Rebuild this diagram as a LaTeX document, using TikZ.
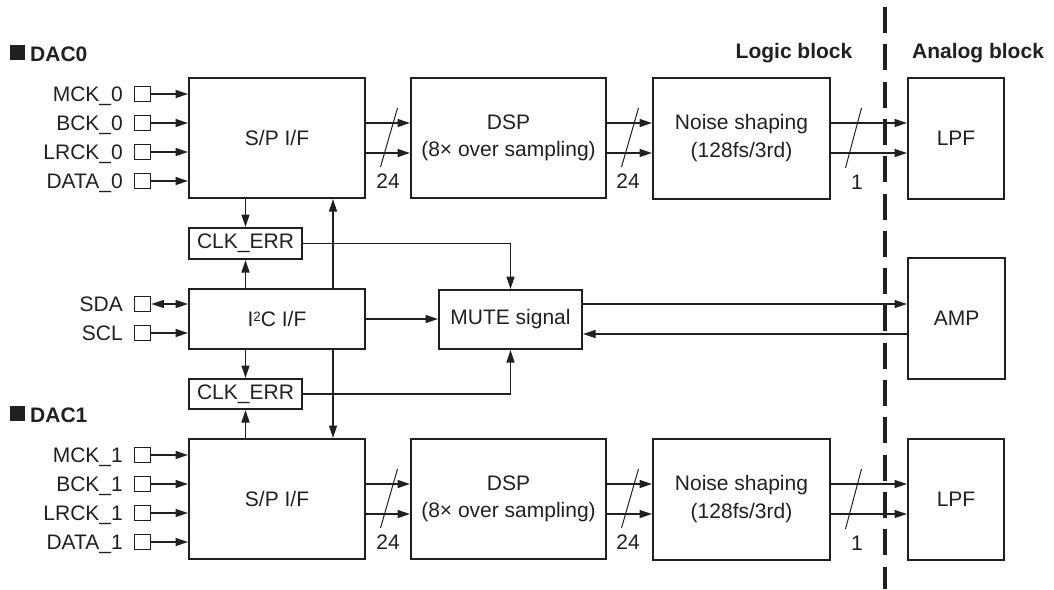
\documentclass[tikz,border=0pt]{standalone}
\usepackage{fontspec}
\setmainfont{Liberation Sans}
\usetikzlibrary{arrows.meta}
\definecolor{ink}{HTML}{231F20}
\begin{document}
\begin{tikzpicture}[x=1pt,y=-1pt,
  font=\fontsize{21}{27.5}\selectfont, text=ink,
  box/.style={draw=ink, line width=2pt, inner sep=0pt, align=center},
  pin/.style={draw=ink, line width=1.7pt, minimum width=16pt, minimum height=15pt, inner sep=0pt},
  conn/.style={line width=1.3pt, draw=ink},
  arr/.style={conn, -{Triangle[length=12.5pt,width=8pt]}},
  darr/.style={conn, {Triangle[length=12.5pt,width=8pt]}-{Triangle[length=12.5pt,width=8pt]}},
  lbl/.style={anchor=base east, inner sep=0pt},
  head/.style={inner sep=0pt, font=\fontsize{21}{27.5}\selectfont\bfseries},
  busmark/.style={line width=1pt, draw=ink},
  divider/.style={line width=4pt, draw=ink, dash pattern=on 26pt off 11.3pt}]
\useasboundingbox (0,0) rectangle (1054,589);

% headings
\node[fill=ink, minimum width=15pt, minimum height=15pt, inner sep=0pt] (sq0) at (17.5,52.5) {};
\node[head, anchor=base west] (dac0) at (30,61) {DAC0};
\node[fill=ink, minimum width=15pt, minimum height=15pt, inner sep=0pt] (sq1) at (17.5,413.5) {};
\node[head, anchor=base west] (dac1) at (30,422) {DAC1};
\node[head, anchor=base] (logic) at (794,58) {Logic block};
\node[head, anchor=base] (analog) at (978,58) {Analog block};

% divider
\coordinate (dtop) at (884.5,7);
\coordinate (dbot) at (884.5,589);
\draw[divider] (dtop) -- (dbot);

% two DAC chains
\foreach \d/\c in {0/138,1/499} {
  \node[box, minimum width=176pt, minimum height=120pt] (sp\d) at (277,\c) {S/P I/F};
  \node[box, minimum width=195pt, minimum height=120pt] (dsp\d) at (508.5,\c) {DSP\\(8× over sampling)};
  \node[box, minimum width=177pt, minimum height=121pt] (ns\d) at (741.5,\c) {Noise shaping\\(128fs/3rd)};
  \node[box, minimum width=96pt, minimum height=121pt] (lpf\d) at (956,\c) {LPF};
  \foreach \n/\o in {MCK/-44,BCK/-15,LRCK/14,DATA/43} {
    \node[pin] (\n\d) at (142.5,\c+\o) {};
    \node[lbl] (t\n\d) at (123,\c+\o+7.5) {\n\_\d};
    \draw[arr] (\n\d.east) -- (sp\d.west |- \n\d);
  }
  \foreach \a/\b in {sp/dsp,dsp/ns,ns/lpf} {
    \draw[arr] ([yshift=15pt]\a\d.east) -- ([yshift=15pt]\b\d.west);
    \draw[arr] ([yshift=-15pt]\a\d.east) -- ([yshift=-15pt]\b\d.west);
  }
  \draw[busmark] (397.5,\c-30) -- (380.5,\c+29);
  \node (wa\d) at (388,\c+43) {24};
  \draw[busmark] (638.5,\c-30) -- (621.5,\c+29);
  \node (wb\d) at (628,\c+43) {24};
  \draw[busmark] (861.5,\c-30) -- (845.5,\c+30);
  \node (wc\d) at (857,\c+44) {1};
}

% control section
\node[box, minimum width=113pt, minimum height=31pt] (ce0) at (245.5,243.5) {CLK\_ERR};
\node[box, minimum width=176pt, minimum height=60pt] (i2c) at (277,319) {I\raisebox{5.5pt}{\fontsize{13.5}{13.5}\selectfont 2}C I/F};
\node[box, minimum width=113pt, minimum height=30pt] (ce1) at (245.5,394) {CLK\_ERR};
\node[box, minimum width=143pt, minimum height=59pt] (mute) at (510.5,319.5) {MUTE signal};
\node[box, minimum width=97pt, minimum height=121pt] (amp) at (956.5,318.5) {AMP};

\node[pin] (sda) at (142.5,304) {};
\node[lbl] (tsda) at (123,311.5) {SDA};
\node[pin] (scl) at (142.5,333) {};
\node[lbl] (tscl) at (123,340.5) {SCL};
\draw[darr] (sda.east) -- (sda.east -| i2c.west);
\draw[arr] (scl.east) -- (scl.east -| i2c.west);

\draw[arr] (sp0.south -| ce0) -- (ce0.north);
\draw[arr] (i2c.north -| ce0) -- (ce0.south);
\draw[arr] (i2c.south -| ce1) -- (ce1.north);
\draw[arr] (sp1.north -| ce1) -- (ce1.south);
\coordinate (vx) at (333,0);
\draw[arr] (i2c.north -| vx) -- (sp0.south -| vx);
\draw[arr] (i2c.south -| vx) -- (sp1.north -| vx);
\draw[arr] (ce0.east) -| (mute.north);
\draw[arr] (ce1.east) -| (mute.south);
\draw[arr] (i2c.east) -- (i2c.east -| mute.west);
\draw[arr] ([yshift=15.5pt]mute.east) -- ([yshift=15.5pt]mute.east -| amp.west);
\draw[arr] ([yshift=-14.5pt]mute.east -| amp.west) -- ([yshift=-14.5pt]mute.east);
\end{tikzpicture}
\end{document}
